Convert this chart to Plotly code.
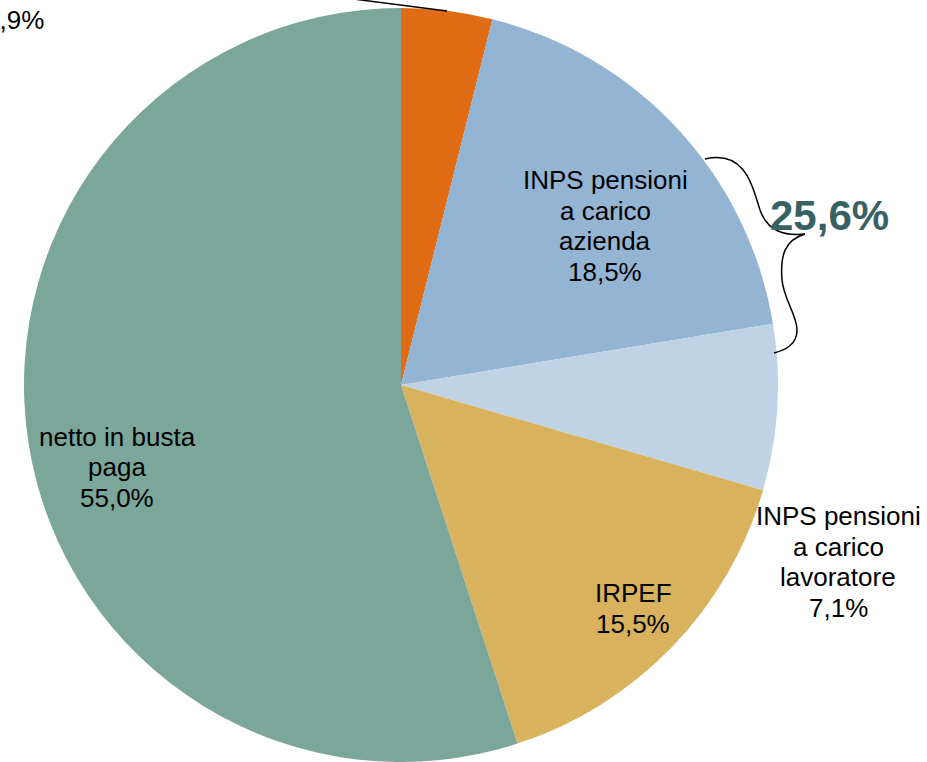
import plotly.graph_objects as go

# ---- data ----
labels = ["altri contributi", "INPS pensioni a carico azienda",
          "INPS pensioni a carico lavoratore", "IRPEF", "netto in busta paga"]
values = [3.9, 18.5, 7.1, 15.5, 55.0]
label_lines = [
    [],
    ["INPS pensioni", "a carico", "azienda"],
    ["INPS pensioni", "a carico", "lavoratore"],
    ["IRPEF"],
    ["netto in busta", "paga"],
]
brace_total = values[1] + values[2]
colors = ["#E06C15", "#94B4D3", "#BFD3E5", "#D9B25E", "#7BA69A"]

W, H = 927, 762

def fmt(v):
    return f"{v:.1f}".replace(".", ",") + "%"

fig = go.Figure(go.Pie(
    labels=labels, values=values, sort=False, direction="clockwise",
    rotation=0, textinfo="none", hoverinfo="label+percent",
    marker=dict(colors=colors, line=dict(width=0)),
    domain=dict(x=[24 / W, 778 / W], y=[0, 1 - 8 / H]),
    showlegend=False,
))

# label block positions (pixel centres of first line) and line step
label_pos = {1: (605, 180), 2: (838, 516), 3: (633, 593), 4: (117, 437)}
step = 30.5
FONT = "Liberation Sans, Arial, sans-serif"

annotations = []
for i, (cx, cy) in label_pos.items():
    lines = label_lines[i] + [fmt(values[i])]
    for k, t in enumerate(lines):
        y = cy + k * step
        annotations.append(dict(
            text=t, x=cx / W, y=1 - y / H, xref="paper", yref="paper",
            xanchor="center", yanchor="middle", showarrow=False,
            font=dict(family=FONT, size=26, color="#000000")))

# cut-off label of the small orange slice
annotations.append(dict(
    text=fmt(values[0]), x=46 / W, y=1 - 20 / H, xref="paper", yref="paper",
    xanchor="right", yanchor="middle", showarrow=False,
    font=dict(family=FONT, size=26, color="#000000")))

# brace total
annotations.append(dict(
    text="<b>" + fmt(brace_total) + "</b>", x=829 / W, y=1 - 215 / H,
    xref="paper", yref="paper", xanchor="center", yanchor="middle",
    showarrow=False, font=dict(family=FONT, size=42, color="#376163")))

def P(x, y):
    return f"{x / W:.5f},{1 - y / H:.5f}"

brace_path = (
    f"M {P(705,159)} C {P(745,150)} {P(752,185)} {P(760,210)} "
    f"C {P(768,232)} {P(785,236)} {P(805,234)} "
    f"C {P(785,240)} {P(780,255)} {P(782,280)} "
    f"C {P(784,300)} {P(797,315)} {P(797,330)} "
    f"C {P(797,345)} {P(785,350)} {P(774,353)}"
)

shapes = [
    dict(type="path", path=brace_path, xref="paper", yref="paper",
         line=dict(color="#000000", width=1.5)),
    dict(type="line", xref="paper", yref="paper",
         x0=330 / W, y0=1 - (-4) / H, x1=447 / W, y1=1 - 11 / H,
         line=dict(color="#000000", width=1.5)),
]

fig.update_layout(
    width=W, height=H, margin=dict(l=0, r=0, t=0, b=0),
    paper_bgcolor="#FFFFFF", plot_bgcolor="#FFFFFF",
    annotations=annotations, shapes=shapes,
)

fig.write_html("out.html")
